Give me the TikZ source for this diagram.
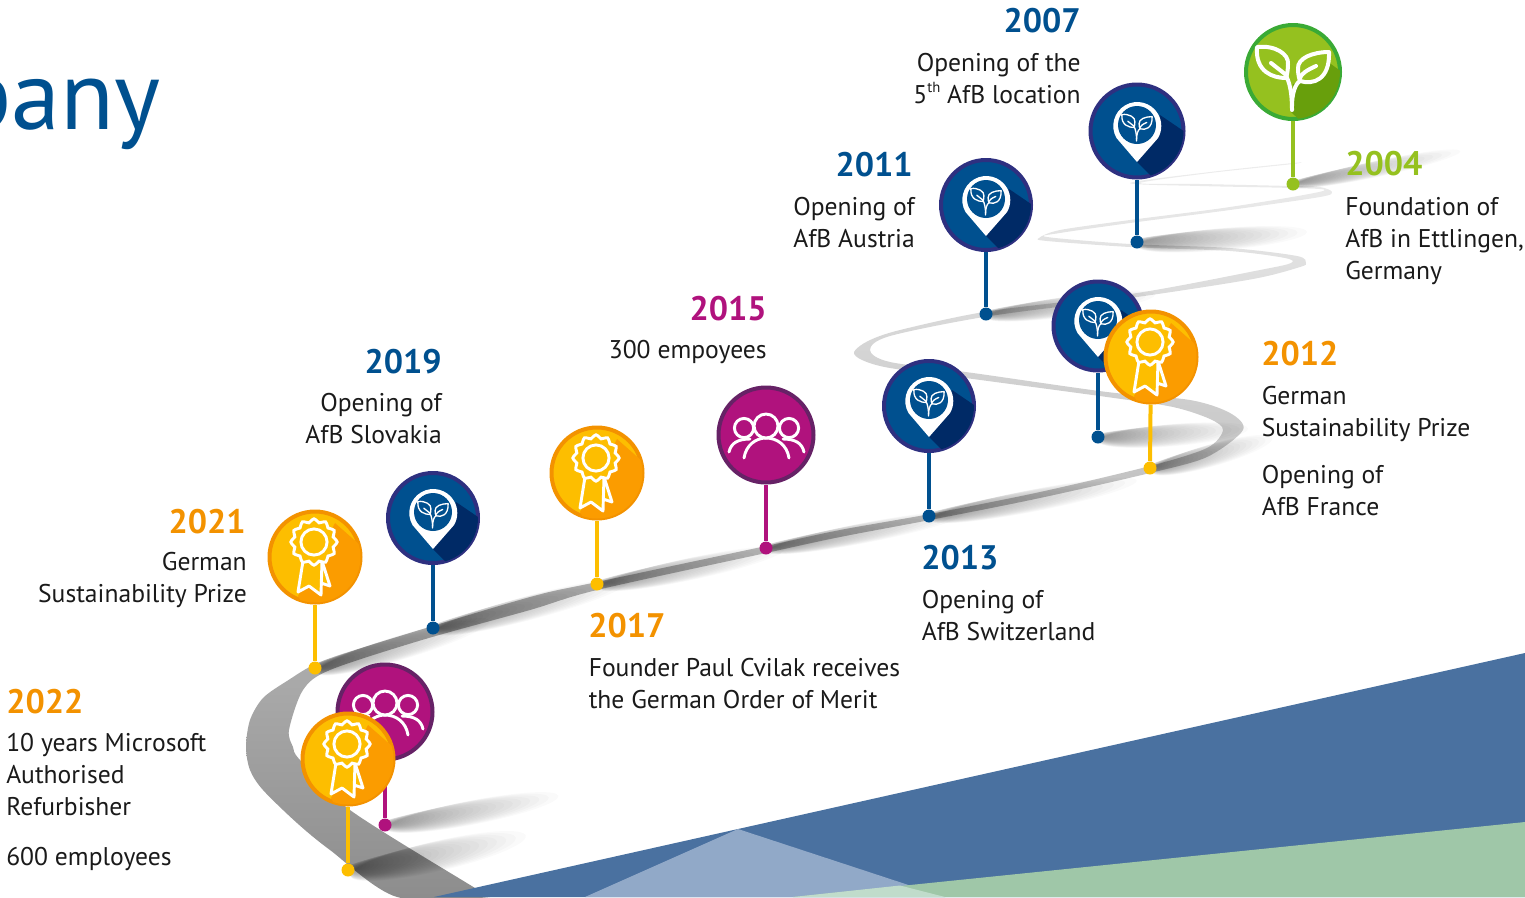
\documentclass[tikz,border=0pt]{standalone}
\usepackage{fontspec}
\setmainfont{PT Sans}
\usetikzlibrary{calc}
\definecolor{blueF}{HTML}{00508F}\definecolor{blueR}{HTML}{2E3080}\definecolor{blueD}{HTML}{002A66}\definecolor{blueS}{HTML}{00508F}
\definecolor{greenF}{HTML}{95C11F}\definecolor{greenR}{HTML}{3AAA35}\definecolor{greenD}{HTML}{689F0C}\definecolor{greenS}{HTML}{95C11F}
\definecolor{orF}{HTML}{FDBE00}\definecolor{orR}{HTML}{F39200}\definecolor{orD}{HTML}{FB9C00}\definecolor{orS}{HTML}{FDBE00}
\definecolor{purF}{HTML}{B0127D}\definecolor{purR}{HTML}{662266}\definecolor{purD}{HTML}{B0127D}\definecolor{purS}{HTML}{B0127D}
\definecolor{bgBlue}{HTML}{4A71A0}\definecolor{bgLight}{HTML}{91A9C8}\definecolor{bgGreen}{HTML}{9FC7A8}\definecolor{bgPale}{HTML}{C0DCCB}
\definecolor{txt}{HTML}{1A1A1A}
\tikzset{
  yearlabel/.style={font=\fontsize{25.5pt}{30pt}\selectfont\bfseries,inner sep=0pt},
  infolabel/.style={font=\fontsize{19.2pt}{24pt}\selectfont,text=txt,inner sep=0pt},
  dotnode/.style={circle,fill=#1,minimum size=9.75pt,inner sep=0pt},
  stemline/.style={draw=#1,line width=3pt},
}
% plant icon, centred at the local origin
\newcommand\plantshape[3]{% fill, leaf line width, rib line width
  \draw[white,line width=#2,fill=#1,line join=round]
    (-36,-25) .. controls (-18,-27) and (-4,-18) .. (-5,-8) .. controls (-5,-2) and (-6,3) .. (-7,6)
    .. controls (-20,6) and (-38,0) .. cycle;
  \draw[white,line width=#2,fill=#1,line join=round]
    (36,-20) .. controls (20,-20) and (4,-14) .. (5,-3) .. controls (5,2) and (6,6) .. (7,9)
    .. controls (20,13) and (37,8) .. cycle;
  \draw[white,line width=#3,line cap=round] (-22,-9) -- (-8,2) .. controls (-3,10) and (-1,22) .. (-1,38);
  \draw[white,line width=#3,line cap=round] (23,-6) .. controls (14,-2) and (8,2) .. (7,6);
  \draw[white,line width=#3,line cap=round] (7,9) .. controls (2,12) and (-1,22) .. (-1,34);
}
\newcommand\iconleaf{%
  \fill[greenD] (35,-10) -- (70,15) -- (70,70) -- (30,70) -- (-2,40) -- (0,12) -- (10,10) -- cycle;
}
\newcommand\iconplant{\plantshape{greenF}{3pt}{3pt}}
\newcommand\iconlocD{%
  \fill[blueD] (23,-16) -- (70,16) -- (70,71) -- (40,71) -- (0,31) -- cycle;
}
\newcommand\iconloc{%
  \fill[white] (0,31) -- (-20.5,7) arc[start angle=210,end angle=-30,radius=18pt] -- cycle;
  \fill[blueF] (0,-6) circle[radius=14.25pt];
  \begin{scope}[shift={(0,-6)},scale=.42]\plantshape{blueF}{1pt}{1pt}\end{scope}
}
\newcommand\iconmedalD{%
  \fill[orD] (20,-34) -- (70,10) -- (70,70) -- (0,70) -- (-17,39) -- cycle;
}
\newcommand\iconmedal{%
  \draw[white,line width=2.2pt,fill=orF,line join=round] (7,4) -- (15,29) -- (6,26) -- cycle;
  \draw[white,line width=2.2pt,fill=orF,line join=round] (-12,4) -- (-17,35) -- (-6,29) -- (6,38) -- (7,4) -- cycle;
  \draw[white,line width=2.2pt,fill=orF] plot[domain=0:352.5,samples=48,smooth cycle]
    ({-1+(21.5+1.7*cos(12*\x))*cos(\x)},{-15+(21.5+1.7*cos(12*\x))*sin(\x)});
  \draw[white,line width=2.2pt] (-1,-15) circle[radius=9.8pt];
}
\newcommand\icongroupD{}
\newcommand\icongroup{%
  \draw[white,line width=2.2pt,fill=purF] (-22,-7) circle[radius=7.2pt];
  \draw[white,line width=2.2pt,fill=purF] (23,-7) circle[radius=7.2pt];
  \draw[white,line width=2.2pt,line cap=round] (-37,17) .. controls (-35,8) and (-28,4) .. (-16,4);
  \draw[white,line width=2.2pt,line cap=round] (38,17) .. controls (36,8) and (29,4) .. (17,4);
  \draw[white,line width=2.2pt,line cap=round,fill=purF] (-22,23) .. controls (-20,10) and (-10,3) .. (0,3) .. controls (11,3) and (21,10) .. (23,23);
  \draw[white,line width=2.2pt,fill=purF] (0,-9) circle[radius=9pt];
}
% name, x, y, radius(px), dot x, dot y, theme, dark-macro, icon-macro
\newcommand\placepin[9]{%
  \pgfmathsetlengthmacro\pinsize{2*(#4-2)*.75pt}
  \pgfmathsetlengthmacro\pinclip{(#4-2)*.75pt}
  \node[circle,draw=#7R,fill=#7F,line width=3pt,minimum size=\pinsize,inner sep=0pt] (c#1) at (#2,#3) {};
  \node[dotnode=#7S] (d#1) at (#5,#6) {};
  \draw[stemline=#7S] (c#1) -- (d#1);
  \begin{scope}[shift={(#2,#3)}]
    \begin{scope}\clip (0,0) circle[radius=\pinclip]; #8\end{scope}
    #9
  \end{scope}
}
% x, y, angle, length, width: the soft wedge hangs below its start line
\newcommand\roadshadow[5]{%
  \begin{scope}[shift={(#1,#2)},rotate=#3]
    \foreach \i in {1,...,32}{
      \pgfmathsetlengthmacro\ra{#4*.375pt*(\i/32)^1.8}
      \pgfmathsetlengthmacro\rb{#5*.375pt*\i/32}
      \pgfmathsetlengthmacro\rc{-.7*\rb}
      \fill[black,opacity=.021] (\ra,\rc) ellipse[x radius=\ra,y radius=\rb];
    }
  \end{scope}
}
\begin{document}
\begin{tikzpicture}[x=.75pt,y=-.75pt]
\useasboundingbox (0,0) rectangle (1525,897);
\begin{scope}
\clip (0,0) rectangle (1525,897);
% road
\shade[top color=black!7,middle color=black!30,bottom color=black!45]
  plot[smooth cycle,tension=.5] coordinates {
   (1293,163) (1210,172) (1130,183) (1200,186) (1290,188) (1323,191)
   (1230,207) (1130,220) (1060,230) (1039,238) (1047,241) (1130,247) (1230,251) (1285,258) (1291,263)
   (1260,270) (1137,293) (990,311) (900,330) (868,341) (854,352) (862,360) (890,368) (973,379) (1107,397)
   (1173,407) (1210,419) (1223,430) (1207,448) (1150,466) (1040,492) (930,514) (840,530) (766,546)
   (597,582) (530,597) (387,640) (320,662) (287,681) (263,698) (250,720) (246,747) (250,770) (263,790) (297,823) (330,850) (397,897) (490,897)
   (475,888) (350,810) (300,760) (293,747) (289,730) (303,690) (330,670) (422,640) (530,610) (597,590) (766,553)
   (840,537) (930,520) (1040,498) (1150,473) (1207,457) (1243,430) (1230,413) (1190,400) (1107,392)
   (973,373) (890,362) (870,350) (890,336) (990,316) (1137,297) (1253,279) (1300,267) (1306,263)
   (1297,256) (1230,248) (1130,244) (1047,237) (1060,233) (1130,223) (1230,210) (1320,197) (1332,192)
   (1320,187) (1290,186) (1200,184) (1140,183) (1210,173) (1293,164)
  };
% background wedges, lying over the end of the road
\fill[bgBlue] (434,897) -- (738,829) -- (1525,653) -- (1525,897) -- cycle;
\fill[bgLight] (585,897) -- (738,829) -- (945,897) -- cycle;
\fill[bgGreen] (793,897) -- (1525,822) -- (1525,897) -- cycle;
\fill[bgPale] (793,897) -- (900,885.5) -- (945,897) -- cycle;
% cast shadows
\roadshadow{1293}{181}{12}{170}{16}
\roadshadow{1137}{239}{5}{170}{22}
\roadshadow{986}{311}{8}{170}{20}
\roadshadow{1098}{434}{5}{150}{22}
\roadshadow{1150}{465}{16}{125}{22}
\roadshadow{929}{513}{11}{210}{22}
\roadshadow{766}{545}{11}{200}{20}
\roadshadow{597}{581}{12}{190}{22}
\roadshadow{433}{625}{15}{200}{24}
\roadshadow{315}{665}{17}{180}{24}
\roadshadow{385}{821}{11}{175}{24}
\roadshadow{348}{866}{13}{180}{30}
% pins
\placepin{a}{1293}{72}{49}{1293}{184}{green}{\iconleaf}{\iconplant}
\placepin{b}{1137}{131}{48.5}{1137}{242}{blue}{\iconlocD}{\iconloc}
\placepin{e}{986}{205}{47}{986}{314}{blue}{\iconlocD}{\iconloc}
\placepin{f}{929}{406}{47}{929}{516}{blue}{\iconlocD}{\iconloc}
\placepin{g}{1098}{326}{46.5}{1098}{437}{blue}{\iconlocD}{\iconloc}
\placepin{h}{1151}{357}{47.5}{1150}{468}{or}{\iconmedalD}{\iconmedal}
\placepin{i}{766}{435}{49.5}{766}{548}{pur}{\icongroupD}{\icongroup}
\placepin{j}{597}{473}{47.5}{597}{584}{or}{\iconmedalD}{\iconmedal}
\placepin{k}{433}{518}{47}{433}{628}{blue}{\iconlocD}{\iconloc}
\placepin{l}{315}{557}{47.5}{315}{668}{or}{\iconmedalD}{\iconmedal}
\placepin{m}{385}{712}{49.5}{385}{825}{pur}{\icongroupD}{\icongroup}
\placepin{n}{348}{759}{47.5}{348}{870}{or}{\iconmedalD}{\iconmedal}
% title fragment
\node[anchor=base east,inner sep=0pt,text=blueF,font=\fontsize{74pt}{80pt}\selectfont] (title) at (161,129) {pany};
% labels
\node[yearlabel,text=blueF,anchor=base east] (y2007) at (1081,32) {2007};
\node[infolabel,align=right,anchor=base east] (t2007) at (1081,103) {Opening of the\\5\raisebox{.42em}{\fontsize{11pt}{11pt}\selectfont th} AfB location};
\node[yearlabel,text=blueF,anchor=base east] (y2011) at (913,176) {2011};
\node[infolabel,align=right,anchor=base east] (t2011) at (915,247) {Opening of\\AfB Austria};
\node[yearlabel,text=purF,anchor=base east] (y2015) at (767,320) {2015};
\node[infolabel,align=right,anchor=base east] (t2015) at (767,358) {300 empoyees};
\node[yearlabel,text=blueF,anchor=base east] (y2019) at (442,373) {2019};
\node[infolabel,align=right,anchor=base east] (t2019) at (442,443) {Opening of\\AfB Slovakia};
\node[yearlabel,text=orR,anchor=base east] (y2021) at (246,533) {2021};
\node[infolabel,align=right,anchor=base east] (t2021) at (247,602) {German\\Sustainability Prize};
\node[yearlabel,text=orR,anchor=base west] (y2022) at (6,713) {2022};
\node[infolabel,align=left,anchor=base west] (t2022) at (6,815) {10 years Microsoft\\Authorised\\Refurbisher};
\node[infolabel,anchor=base west] (t2022b) at (6,865) {600 employees};
\node[yearlabel,text=orR,anchor=base west] (y2017) at (588,637) {2017};
\node[infolabel,align=left,anchor=base west] (t2017) at (588.5,708) {Founder Paul Cvilak receives\\the German Order of Merit};
\node[yearlabel,text=blueF,anchor=base west] (y2013) at (921,569) {2013};
\node[infolabel,align=left,anchor=base west] (t2013) at (921.5,640) {Opening of\\AfB Switzerland};
\node[yearlabel,text=orR,anchor=base west] (y2012) at (1261,365) {2012};
\node[infolabel,align=left,anchor=base west] (t2012) at (1261.5,436) {German\\Sustainability Prize};
\node[infolabel,align=left,anchor=base west] (t2012b) at (1261.5,515) {Opening of\\AfB France};
\node[yearlabel,text=greenF,anchor=base west] (y2004) at (1345,175) {2004};
\node[infolabel,align=left,anchor=base west] (t2004) at (1345,279) {Foundation of\\AfB in Ettlingen,\\Germany};
\end{scope}
\end{tikzpicture}
\end{document}
